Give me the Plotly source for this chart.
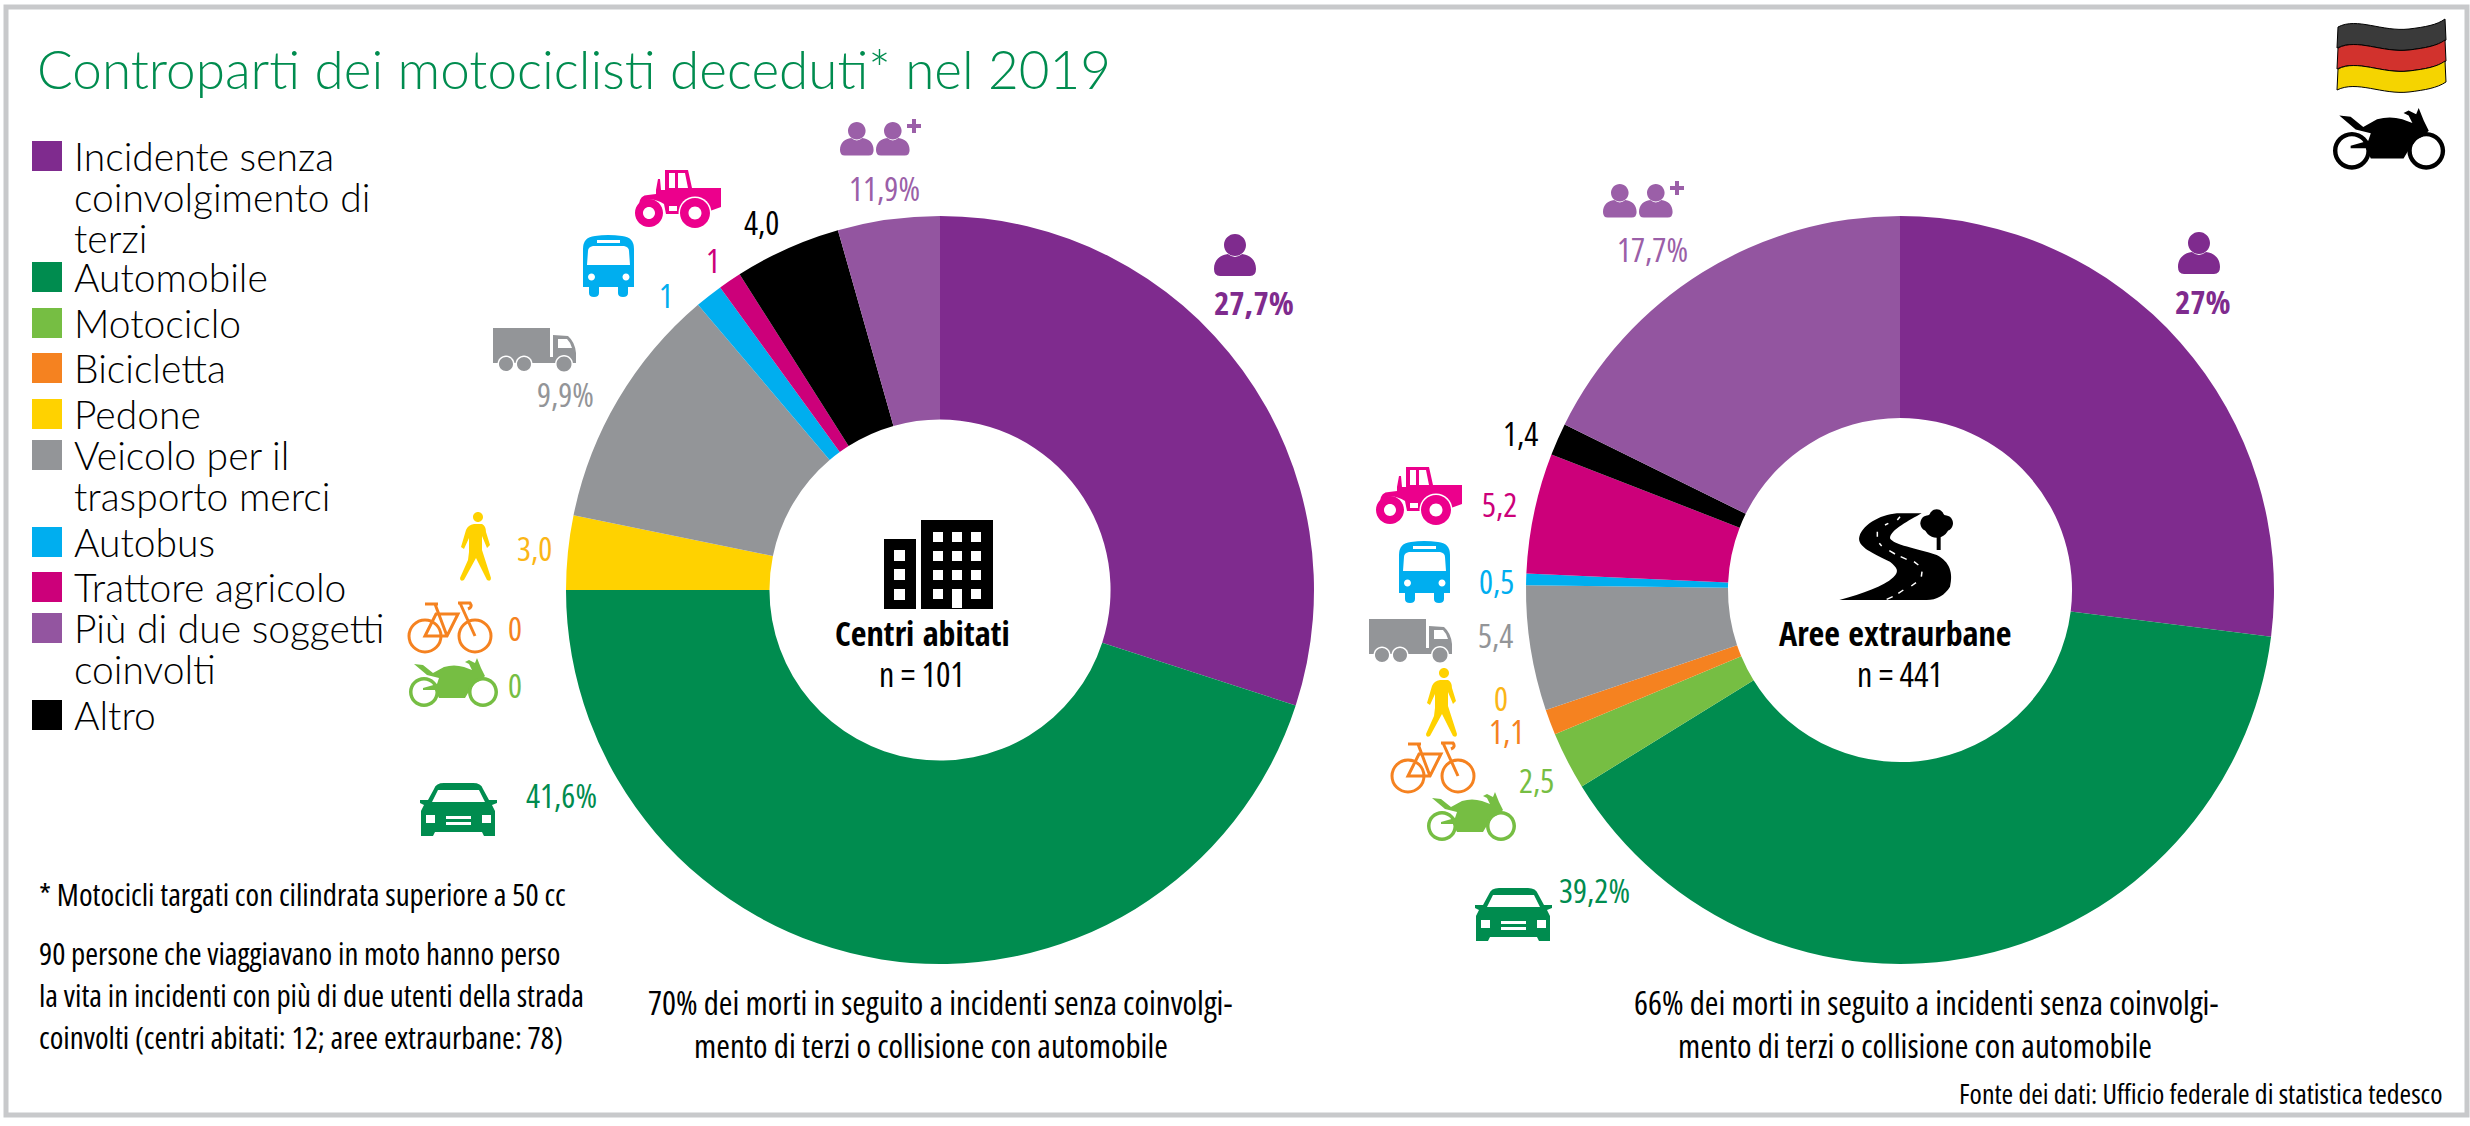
import re
import plotly.graph_objects as go

W, H = 2470, 1126
LIGHT = "Lato Light, Lato, sans-serif"
NARROW = "Open Sans, sans-serif"
NARROW_BOLD = "Open Sans Condensed, Open Sans, sans-serif"

categories = ["Incidente senza coinvolgimento di terzi", "Automobile", "Motociclo", "Bicicletta", "Pedone",
              "Veicolo per il trasporto merci", "Autobus", "Trattore agricolo", "Altro", "Più di due soggetti coinvolti"]
colors = ["#7F2B8E", "#008C4F", "#76BE43", "#F58220", "#FFD200", "#939598", "#00AEEF", "#CC007A", "#000000", "#9355A0"]

# slice sizes as drawn in the picture (the left ring is not drawn to its printed labels)
urban_drawn = [30.0, 45.0, 0, 0, 3.2, 10.6, 1.2, 1.0, 4.6, 4.4]
rural_drawn = [27.0, 39.2, 2.5, 1.1, 0, 5.4, 0.5, 5.2, 1.4, 17.7]

urban_labels = ["27,7%", "41,6%", "0", "0", "3,0", "9,9%", "1", "1", "4,0", "11,9%"]
rural_labels = ["27%", "39,2%", "2,5", "1,1", "0", "5,4", "0,5", "5,2", "1,4", "17,7%"]

legend_rows = [("#7F2B8E", ["Incidente senza", "coinvolgimento di", "terzi"], 156),
               ("#008C4F", ["Automobile"], 277),
               ("#76BE43", ["Motociclo"], 323),
               ("#F58220", ["Bicicletta"], 368),
               ("#FFD200", ["Pedone"], 414),
               ("#939598", ["Veicolo per il", "trasporto merci"], 455),
               ("#00AEEF", ["Autobus"], 542),
               ("#CC007A", ["Trattore agricolo"], 587),
               ("#9355A0", ["Più di due soggetti", "coinvolti"], 628),
               ("#000000", ["Altro"], 715)]

note_lines = ["90 persone che viaggiavano in moto hanno perso",
              "la vita in incidenti con più di due utenti della strada",
              "coinvolti (centri abitati: 12; aree extraurbane: 78)"]


def px(x):
    return x / W


def py(y):
    return 1 - y / H


def place(path, x, y, s=1.0):
    tokens = re.findall(r"[MLCQZ]|-?[\d.]+", path)
    out, nums = [], []
    for t in tokens:
        if t in "MLCQZ":
            out.append(t)
        else:
            nums.append(float(t))
            if len(nums) == 2:
                out.append(f"{px(x + nums[0] * s):.6f},{py(y + nums[1] * s):.6f}")
                nums = []
    return " ".join(out)


def circle(cx, cy, r):
    k = 0.5523 * r
    return (f"M{cx-r} {cy} C{cx-r} {cy-k} {cx-k} {cy-r} {cx} {cy-r} C{cx+k} {cy-r} {cx+r} {cy-k} {cx+r} {cy} "
            f"C{cx+r} {cy+k} {cx+k} {cy+r} {cx} {cy+r} C{cx-k} {cy+r} {cx-r} {cy+k} {cx-r} {cy} Z ")


def rect(x0, y0, x1, y1):
    return f"M{x0} {y0} L{x1} {y0} L{x1} {y1} L{x0} {y1} Z "


PERSON = circle(21, 11, 11) + "M0 35 C0 26 6 21 14 20 Q21 26 28 20 C36 21 42 26 42 35 Q42 42 36 42 L6 42 Q0 42 0 35 Z"
PLUS = "M5 0 L9 0 L9 5 L14 5 L14 9 L9 9 L9 14 L5 14 L5 9 L0 9 L0 5 L5 5 Z"
TRACTOR = ("M20 20 L22 9 L24 9 L25 20 L29 20 L29 0 L52 0 L56 18 L85 18 L85 37 L74 41 L70 33 Q59 25 48 34 L45 44 L30 44 "
           "L28 34 Q14 25 3 34 Q4 25 12 25 L20 24 Z " + rect(33, 3, 39, 18) + "M42 3 L49 3 L52 18 L42 18 Z " + rect(33, 36, 41, 41))
TRACTOR_WHEELS = circle(13, 43, 14) + circle(13, 43, 6) + circle(59, 43, 15) + circle(59, 43, 6.5)
CAR = ("M14 6 Q16 0 24 0 L53 0 Q61 0 63 6 L69 17 L77 17 L77 20 L72 22 L75 28 L75 53 L64 53 L62 49 L15 49 L13 53 L1 53 "
       "L1 28 L4 22 L0 20 L0 17 L8 17 Z M18 7 L59 7 L65 19 L12 19 Z " + rect(6, 32, 15, 40) + rect(62, 32, 71, 40)
       + rect(26, 33, 51, 36) + rect(26, 39, 51, 42))
BUS = ("M0 14 Q0 2 12 1 Q25 -1 39 1 Q51 2 51 14 L51 52 L45 52 L45 58 Q45 62 40 62 Q35 62 35 58 L35 52 L16 52 L16 58 "
       "Q16 62 11 62 Q6 62 6 58 L6 52 L0 52 Z M5 16 Q5 12 10 11 L41 11 Q46 12 46 16 L47 30 L4 30 Z "
       + rect(14, 5, 37, 8) + circle(8.5, 42, 3.5) + circle(43, 42, 3.5))
TRUCK_BODY = rect(0, 0, 57, 29) + rect(0, 29, 60, 35) + "M60 7 L75 8 Q82 14 83 25 L83 35 L60 35 Z M65 11 L74 11 Q78 15 79 20 L65 20 Z"
PEDESTRIAN = (circle(18, 5, 5) + "M14 12 L22 12 Q26 14 26 20 L30 33 L27 36 L22 24 L22 38 L31 66 Q31 70 27 68 L16 46 "
              "L4 68 Q0 70 0 66 L8 48 L9 40 L9 26 L4 37 L1 35 L6 18 Q8 13 14 12 Z")
BIKE = (circle(17, 34, 16) + circle(67, 34, 16) + "M17 34 L28 12 L50 12 L39 34 Z M17 2 L30 2 M27 2 L39 34 "
        "M50 1 L62 1 Q65 5 60 7 M52 1 L67 34")
MOTO_BODY = ("M5 6 L14 7 L24 15 L35 9 Q45 6 55 9 L63 12 L60 6 L56 4 L60 2 L66 5 L68 0 L72 10 L76 18 L72 22 L62 30 L56 40 "
             "L30 40 L26 32 L14 32 L14 30 L28 26 L30 20 L18 17 Z")
MOTO_WHEELS = circle(15, 34, 15) + circle(15, 34, 11.5) + circle(74, 34, 15) + circle(74, 34, 11.5)
BUILDING = rect(0, 19, 32, 89) + rect(37, 0, 109, 89)
for wy in (30, 49, 69):
    BUILDING += rect(10, wy, 21, wy + 11)
for wy in (12, 31, 50, 69):
    for wx in (49, 68, 87):
        BUILDING += rect(wx, wy, wx + 10, wy + 10) if not (wx == 68 and wy == 69) else rect(68, 69, 78, 88)
# road drawn in 3x units
ROAD = ("M268 360 C340 340 400 320 430 292 C450 272 440 262 420 245 C370 220 320 200 328 170 C340 130 400 100 450 100 L515 100 "
        "C480 120 420 150 420 175 C430 195 500 205 560 225 C600 245 610 280 600 320 C585 345 560 360 530 360 Z")
ROAD_DASH = ("M450 110 L442 120 M415 130 L405 135 M382 155 L382 170 M388 190 L395 198 M418 212 L435 222 M452 230 L470 238 "
             "M492 245 L505 255 M516 275 L514 290 M498 308 L484 318 M460 330 L445 340 M428 350 L410 358")
TREE_PARTS = [circle(560, 135, 38), circle(535, 130, 24), circle(585, 130, 24), circle(560, 110, 22), rect(560, 165, 572, 210)]

ring_cx = [940, 1900]
ring_cy = 590
ring_r = 374

fig = go.Figure()
for i, (vals, name, hole) in enumerate([(urban_drawn, "Centri abitati", 0.456), (rural_drawn, "Aree extraurbane", 0.46)]):
    fig.add_trace(go.Pie(labels=categories, values=vals, name=name, hole=hole, sort=False, direction="clockwise",
                         rotation=0, textinfo="none", showlegend=False,
                         marker=dict(colors=colors, line=dict(width=0)),
                         domain=dict(x=[px(ring_cx[i] - ring_r), px(ring_cx[i] + ring_r)],
                                     y=[py(ring_cy + ring_r), py(ring_cy - ring_r)])))


def icon(path, x, y, color, s=1.0):
    fig.add_shape(type="path", path=place(path, x, y, s), xref="paper", yref="paper", fillcolor=color,
                  line_width=0, layer="above")


def outline(path, x, y, color, width, s=1.0):
    fig.add_shape(type="path", path=place(path, x, y, s), xref="paper", yref="paper",
                  line=dict(color=color, width=width), layer="above")


def text(x, y, s, size, color="#000000", anchor="center", family=NARROW):
    if family == NARROW:
        s = f'<span style="font-stretch:condensed">{s}</span>'
    fig.add_annotation(x=px(x), y=py(y), xref="paper", yref="paper", text=s, showarrow=False, xanchor=anchor,
                       yanchor="middle", font=dict(family=family, size=size, color=color), borderpad=0, borderwidth=0)


def two_people(x, y, color):
    icon(PERSON, x, y, color, 0.8)
    icon(PERSON, x + 36, y, color, 0.8)
    icon(PLUS, x + 67, y - 3, color)


def truck(x, y, color):
    icon(TRUCK_BODY, x, y, color)
    for wx, r in ((13, 7), (31, 7), (71, 7.5)):
        icon(circle(wx, 36, r + 1.5), x, y, "#FFFFFF")
        icon(circle(wx, 36, r), x, y, color)


def tractor(x, y, color):
    icon(TRACTOR, x, y, color)
    icon(circle(59, 43, 16.5), x, y, "#FFFFFF")
    icon(TRACTOR_WHEELS, x, y, color)


def moto(x, y, color, s=1.0):
    icon(MOTO_BODY, x, y, color, s)
    icon(circle(74, 34, 11.5), x, y, "#FFFFFF", s)
    icon(MOTO_WHEELS, x, y, color, s)


# frame
fig.add_shape(type="rect", x0=px(6), x1=px(2467), y0=py(7), y1=py(1115), xref="paper", yref="paper",
              line=dict(color="#C8C9CB", width=5), layer="below")

text(37, 68, "Controparti dei motociclisti deceduti* nel 2019", 53, "#008C4F", "left", LIGHT)

for color, lines, y in legend_rows:
    icon(rect(32, y - 15, 62, y + 15), 0, 0, color)
    for k, line in enumerate(lines):
        text(74, y + k * 41, line, 39, "#000000", "left", LIGHT)

# left ring
icon(PERSON, 1214, 234, "#7F2B8E")
text(1254, 303, urban_labels[0], 33, "#7F2B8E", family=NARROW_BOLD)
two_people(840, 122, "#9B5FA8")
text(884, 189, urban_labels[9], 33, "#9B5FA8")
tractor(636, 170, "#EC008C")
text(761, 222, urban_labels[8], 33)
text(713, 260, urban_labels[7], 33, "#CC007A")
text(666, 295, urban_labels[6], 33, "#00AEEF")
icon(BUS, 583, 235, "#00AEEF")
truck(493, 328, "#939598")
text(565, 394, urban_labels[5], 33, "#939598")
icon(PEDESTRIAN, 460, 512, "#FFD200")
text(534, 548, urban_labels[4], 33, "#FBB616")
outline(BIKE, 408, 602, "#F58220", 3)
text(515, 628, urban_labels[3], 33, "#F58220")
moto(409, 658, "#76BE43")
text(515, 685, urban_labels[2], 33, "#76BE43")
icon(CAR, 420, 783, "#008C4F")
text(561, 795, urban_labels[1], 33, "#008C4F")

# right ring
icon(PERSON, 2178, 232, "#7F2B8E")
text(2203, 301, rural_labels[0], 33, "#7F2B8E", family=NARROW_BOLD)
two_people(1603, 184, "#9B5FA8")
text(1652, 249, rural_labels[9], 33, "#9B5FA8")
text(1520, 433, rural_labels[8], 33)
tractor(1377, 467, "#EC008C")
text(1499, 505, rural_labels[7], 33, "#CC007A")
icon(BUS, 1399, 541, "#00AEEF")
text(1496, 581, rural_labels[6], 33, "#00AEEF")
truck(1369, 619, "#939598")
text(1495, 635, rural_labels[5], 33, "#939598")
icon(PEDESTRIAN, 1426, 668, "#FFD200")
text(1501, 698, rural_labels[4], 33, "#FBB616")
text(1506, 731, rural_labels[3], 33, "#F58220")
outline(BIKE, 1391, 742, "#F58220", 3)
text(1536, 780, rural_labels[2], 33, "#76BE43")
moto(1427, 792, "#76BE43")
icon(CAR, 1475, 888, "#008C4F")
text(1594, 890, rural_labels[1], 33, "#008C4F")

# ring centres
icon(BUILDING, 884, 520, "#000000")
text(922, 633, "Centri abitati", 34, family=NARROW_BOLD)
text(922, 674, "n = 101", 34)
icon(ROAD, 1750, 480, "#000000", 1 / 3)
outline(ROAD_DASH, 1750, 480, "#FFFFFF", 1.5, 1 / 3)
for part in TREE_PARTS:
    icon(part, 1750, 480, "#000000", 1 / 3)
text(1895, 633, "Aree extraurbane", 34, family=NARROW_BOLD)
text(1900, 674, "n = 441", 34)

# flag
for k, c in enumerate(["#3A3A3A", "#D2322D", "#F5D400"]):
    t, b = k * 21, (k + 1) * 21
    band = (f"M{1} {t+9} C20 {t-1} 45 {t+14} 72 {t+11} C88 {t+9} 100 {t+7} 108 {t+1} L109 {b+1} "
            f"C100 {b+7} 88 {b+9} 72 {b+11} C45 {b+14} 20 {b-1} 0 {b+9} Z")
    fig.add_shape(type="path", path=place(band, 2337, 18), xref="paper", yref="paper", fillcolor=c,
                  line=dict(color="#000000", width=1), layer="above")

moto(2333, 108, "#000000", 1.26)

text(39, 894, "* Motocicli targati con cilindrata superiore a 50 cc", 31, "#000000", "left")
for k, line in enumerate(note_lines):
    text(39, 953 + k * 42, line, 31, "#000000", "left")

text(940, 1002, "70% dei morti in seguito a incidenti senza coinvolgi-", 33)
text(931, 1045, "mento di terzi o collisione con automobile", 33)
text(1926, 1002, "66% dei morti in seguito a incidenti senza coinvolgi-", 33)
text(1915, 1045, "mento di terzi o collisione con automobile", 33)
text(2443, 1093, "Fonte dei dati: Ufficio federale di statistica tedesco", 28, "#000000", "right")

fig.update_layout(width=W, height=H, margin=dict(l=0, r=0, t=0, b=0), paper_bgcolor="white", plot_bgcolor="white")
fig.write_html("out.html", config=dict(displayModeBar=False), post_script="document.body.style.margin='0';")
